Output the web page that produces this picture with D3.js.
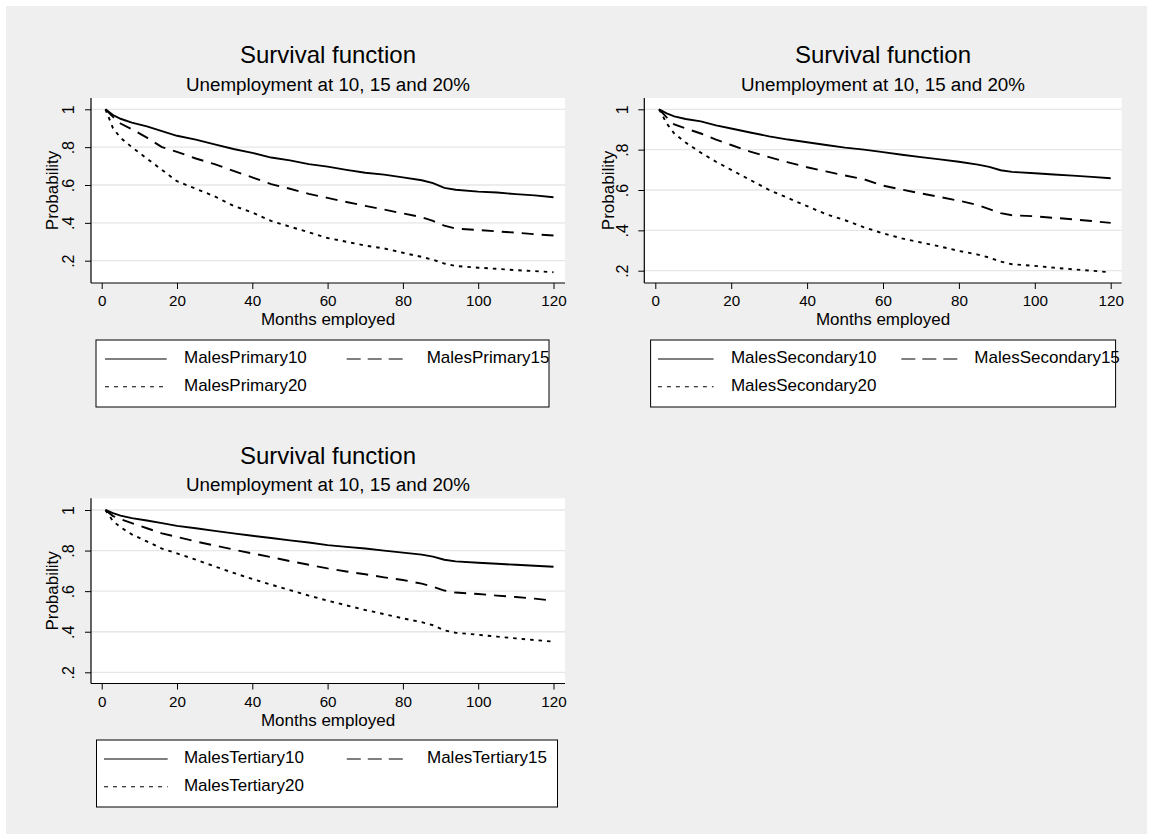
<!DOCTYPE html>
<html>
<head>
<meta charset="utf-8">
<script src="https://cdn.jsdelivr.net/npm/d3@7"></script>
<style>
  body { margin: 0; background: #fff; }
  svg { display: block; font-family: "Liberation Sans", Arial, sans-serif; }
</style>
</head>
<body>
<svg id="chart" width="1153" height="840"></svg>
<script>
// Survival estimates (months employed -> probability)
const months = [1, 3, 5, 8, 12, 16, 20, 25, 30, 35, 40, 45, 50, 55, 60, 65, 70, 75, 80, 85, 88, 91, 94, 100, 105, 110, 115, 120];

const primary10 = [1.0, 0.97, 0.95, 0.93, 0.91, 0.885, 0.86, 0.84, 0.815, 0.79, 0.77, 0.745, 0.73, 0.71, 0.697, 0.68, 0.665, 0.655, 0.64, 0.625, 0.61, 0.585, 0.575, 0.565, 0.56, 0.552, 0.545, 0.535];
const primary15 = [1.0, 0.96, 0.925, 0.895, 0.85, 0.80, 0.775, 0.74, 0.71, 0.675, 0.64, 0.605, 0.58, 0.553, 0.532, 0.51, 0.49, 0.47, 0.45, 0.43, 0.41, 0.385, 0.37, 0.362, 0.355, 0.348, 0.34, 0.333];
const primary20 = [1.0, 0.90, 0.85, 0.80, 0.74, 0.68, 0.62, 0.58, 0.54, 0.49, 0.455, 0.41, 0.38, 0.35, 0.32, 0.30, 0.28, 0.265, 0.242, 0.22, 0.205, 0.185, 0.172, 0.163, 0.157, 0.15, 0.145, 0.139];

const secondary10 = [1.0, 0.98, 0.965, 0.952, 0.94, 0.92, 0.905, 0.885, 0.866, 0.85, 0.837, 0.823, 0.81, 0.80, 0.788, 0.775, 0.763, 0.752, 0.74, 0.726, 0.715, 0.698, 0.69, 0.683, 0.677, 0.671, 0.665, 0.658];
const secondary15 = [1.0, 0.96, 0.925, 0.905, 0.88, 0.85, 0.823, 0.79, 0.763, 0.737, 0.713, 0.692, 0.672, 0.653, 0.622, 0.602, 0.583, 0.565, 0.547, 0.525, 0.505, 0.485, 0.475, 0.47, 0.462, 0.455, 0.446, 0.437];
const secondary20 = [1.0, 0.93, 0.88, 0.835, 0.785, 0.74, 0.70, 0.65, 0.60, 0.56, 0.52, 0.48, 0.45, 0.415, 0.385, 0.36, 0.34, 0.32, 0.298, 0.28, 0.265, 0.245, 0.232, 0.224, 0.215, 0.207, 0.2, 0.192];

const tertiary10 = [1.0, 0.985, 0.972, 0.96, 0.948, 0.935, 0.922, 0.91, 0.897, 0.885, 0.873, 0.862, 0.85, 0.84, 0.827, 0.818, 0.81, 0.80, 0.79, 0.78, 0.77, 0.755, 0.747, 0.74, 0.735, 0.73, 0.725, 0.72];
const tertiary15 = [1.0, 0.97, 0.955, 0.935, 0.91, 0.885, 0.867, 0.845, 0.825, 0.805, 0.786, 0.768, 0.748, 0.73, 0.712, 0.697, 0.683, 0.668, 0.655, 0.637, 0.622, 0.603, 0.593, 0.586, 0.578, 0.571, 0.563, 0.553];
const tertiary20 = [1.0, 0.945, 0.915, 0.88, 0.845, 0.81, 0.786, 0.755, 0.722, 0.69, 0.66, 0.632, 0.605, 0.578, 0.553, 0.53, 0.507, 0.487, 0.466, 0.447, 0.432, 0.407, 0.395, 0.385, 0.376, 0.367, 0.359, 0.351];

const primaryNames = ['MalesPrimary10', 'MalesPrimary15', 'MalesPrimary20'];
const secondaryNames = ['MalesSecondary10', 'MalesSecondary15', 'MalesSecondary20'];
const tertiaryNames = ['MalesTertiary10', 'MalesTertiary15', 'MalesTertiary20'];

const xTicks = [0, 20, 40, 60, 80, 100, 120];
const yTicks = [0.2, 0.4, 0.6, 0.8, 1];
const yTickLabels = ['.2', '.4', '.6', '.8', '1'];

const titleText = 'Survival function';
const subtitleText = 'Unemployment at 10, 15 and 20%';
const xTitle = 'Months employed';
const yTitle = 'Probability';

// solid, long dash, short dash
const plotDash = [null, '12,8', '3.5,5'];
const legendDash = [null, '14,7', '4,5'];

const svg = d3.select('#chart');

// grey graph region
svg.append('rect')
  .attr('x', 6).attr('y', 6)
  .attr('width', 1141).attr('height', 828)
  .attr('fill', '#efefef');

const panels = [
  {
    series: [primary10, primary15, primary20], names: primaryNames,
    left: 91, right: 565, top: 98, bottom: 283,
    x0: 101.7, x120: 553.5, y02: 260.7, y1: 109.3,
    tickOff: 17.2, probOff: 32.7,
    legend: { x: 96, y: 340, w: 453, h: 67, cols: [[105, 166.7, 184], [346.7, 403, 426.7]] }
  },
  {
    series: [secondary10, secondary15, secondary20], names: secondaryNames,
    left: 644.3, right: 1121.7, top: 98, bottom: 283,
    x0: 655.3, x120: 1110.7, y02: 270.7, y1: 109.3,
    tickOff: 16, probOff: 30.3,
    legend: { x: 650.6, y: 340, w: 465, h: 67, cols: [[657.9, 713.6, 730.9], [901.3, 958.1, 974.3]] }
  },
  {
    series: [tertiary10, tertiary15, tertiary20], names: tertiaryNames,
    left: 91, right: 565, top: 498.3, bottom: 683.5,
    x0: 101.7, x120: 553.5, y02: 672.3, y1: 510,
    tickOff: 17.2, probOff: 32.7,
    legend: { x: 96.5, y: 740, w: 461, h: 67, cols: [[104, 167.7, 183.9], [346.8, 408.8, 427]] }
  }
];

panels.forEach(p => {
  const g = svg.append('g');
  const x = d3.scaleLinear().domain([0, 120]).range([p.x0, p.x120]);
  const y = d3.scaleLinear().domain([0.2, 1]).range([p.y02, p.y1]);
  const midX = (p.left + p.right) / 2;
  const midY = (p.top + p.bottom) / 2;

  // titles
  g.append('text')
    .attr('x', midX).attr('y', p.top - 34.7)
    .attr('text-anchor', 'middle')
    .attr('font-size', 24)
    .text(titleText);
  g.append('text')
    .attr('x', midX).attr('y', p.top - 7.3)
    .attr('text-anchor', 'middle')
    .attr('font-size', 18.8)
    .text(subtitleText);

  // plot region
  g.append('rect')
    .attr('x', p.left).attr('y', p.top)
    .attr('width', p.right - p.left).attr('height', p.bottom - p.top)
    .attr('fill', '#fff');

  // gridlines
  g.selectAll('.grid')
    .data(yTicks)
    .join('line')
      .attr('x1', p.left).attr('x2', p.right)
      .attr('y1', d => y(d)).attr('y2', d => y(d))
      .attr('stroke', '#e6e6e6')
      .attr('stroke-width', 1.3);

  // curves
  const line = d3.line()
    .x((d, i) => x(months[i]))
    .y(d => y(d));
  p.series.forEach((s, k) => {
    g.append('path')
      .attr('d', line(s))
      .attr('fill', 'none')
      .attr('stroke', '#000')
      .attr('stroke-width', 1.9)
      .attr('stroke-dasharray', plotDash[k]);
  });

  // y axis
  const yAxis = g.append('g')
    .attr('transform', `translate(${p.left},0)`)
    .call(d3.axisLeft(y).tickValues(yTicks).tickSize(6).tickSizeOuter(0)
      .tickFormat((d, i) => yTickLabels[i]));
  yAxis.select('.domain').remove();
  yAxis.selectAll('.tick line').attr('stroke', '#000');
  yAxis.selectAll('.tick text')
    .attr('transform', 'rotate(-90)')
    .attr('x', 0).attr('y', -p.tickOff).attr('dy', null)
    .attr('text-anchor', 'middle')
    .attr('font-size', 16)
    .attr('font-family', null)
    .attr('fill', '#000');

  // x axis
  const xAxis = g.append('g')
    .attr('transform', `translate(0,${p.bottom})`)
    .call(d3.axisBottom(x).tickValues(xTicks).tickSize(6).tickSizeOuter(0));
  xAxis.select('.domain').remove();
  xAxis.selectAll('.tick line').attr('stroke', '#000');
  xAxis.selectAll('.tick text')
    .attr('y', 23).attr('dy', null)
    .attr('font-size', 15.2)
    .attr('font-family', null)
    .attr('fill', '#000');

  // axis lines
  g.append('line')
    .attr('x1', p.left).attr('x2', p.left)
    .attr('y1', p.top).attr('y2', p.bottom)
    .attr('stroke', '#000').attr('stroke-width', 1.2);
  g.append('line')
    .attr('x1', p.left).attr('x2', p.right)
    .attr('y1', p.bottom).attr('y2', p.bottom)
    .attr('stroke', '#000').attr('stroke-width', 1.2);

  // axis titles
  g.append('text')
    .attr('x', midX).attr('y', p.bottom + 42)
    .attr('text-anchor', 'middle')
    .attr('font-size', 17)
    .text(xTitle);
  g.append('text')
    .attr('transform', `translate(${p.left - p.probOff},${midY}) rotate(-90)`)
    .attr('text-anchor', 'middle')
    .attr('font-size', 17)
    .text(yTitle);

  // legend
  const L = p.legend;
  g.append('rect')
    .attr('x', L.x).attr('y', L.y)
    .attr('width', L.w).attr('height', L.h)
    .attr('fill', '#fff')
    .attr('stroke', '#000')
    .attr('stroke-width', 1);
  p.names.forEach((name, k) => {
    const col = L.cols[k % 2];
    const row = Math.floor(k / 2);
    const ly = L.y + 19 + row * 27.7;
    g.append('line')
      .attr('x1', col[0]).attr('x2', col[1])
      .attr('y1', ly).attr('y2', ly)
      .attr('stroke', '#000')
      .attr('stroke-width', 1.1)
      .attr('stroke-dasharray', legendDash[k]);
    g.append('text')
      .attr('x', col[2]).attr('y', ly + 4.3)
      .attr('font-size', 17)
      .text(name);
  });
});
</script>
</body>
</html>
